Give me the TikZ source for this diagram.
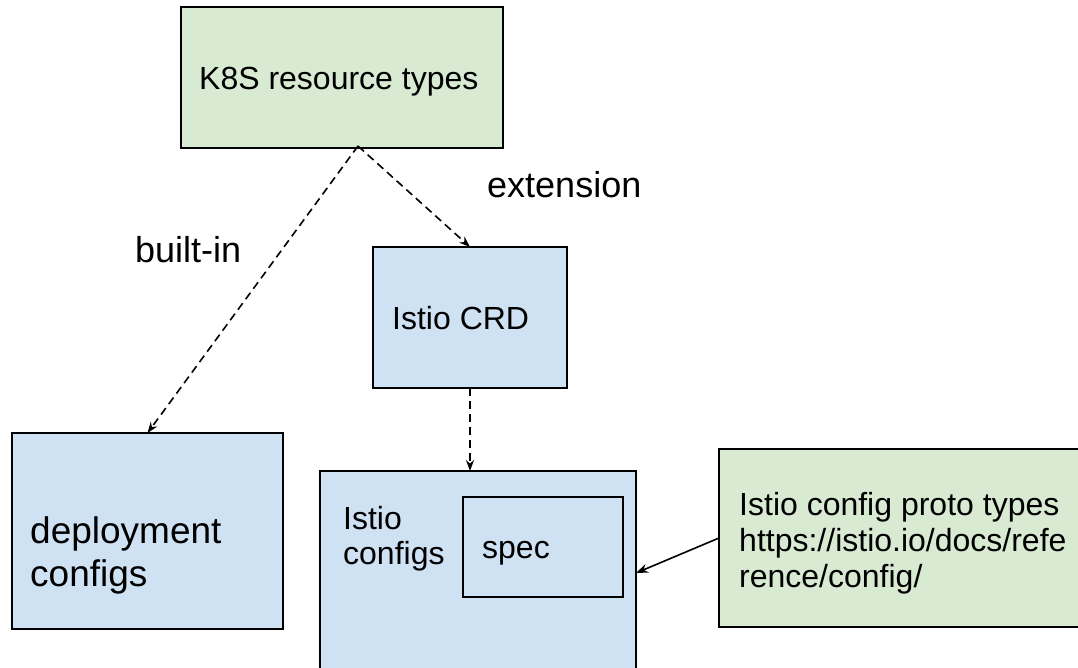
\documentclass[tikz,border=0pt]{standalone}
\usepackage{fontspec}
\setmainfont{Liberation Sans}
\usetikzlibrary{arrows.meta}
\definecolor{boxgreen}{HTML}{D9EAD3}
\definecolor{boxblue}{HTML}{CFE2F3}
\begin{document}
\begin{tikzpicture}[x=1pt,y=-1pt,
  box/.style={draw=black, line width=2pt, inner sep=0pt, outer sep=0pt},
  gbox/.style={box, fill=boxgreen},
  bbox/.style={box, fill=boxblue},
  txt/.style={anchor=base west, inner sep=0pt, font=\fontsize{32}{36}\selectfont},
  bigtxt/.style={anchor=base west, inner sep=0pt, font=\fontsize{36}{42}\selectfont},
  dasharrow/.style={draw=black, line width=1.6pt, dash pattern=on 8pt off 5pt, -{Stealth[length=11pt,width=8pt]}},
  solidarrow/.style={draw=black, line width=1.6pt, -{Stealth[length=12pt,width=9pt]}}]
\useasboundingbox (0,0) rectangle (1078,667);
\fill[white] (0,0) rectangle (1078,667);

% boxes
\node[gbox, minimum width=322pt, minimum height=141pt] (k8s) at (342,77.5) {};
\node[bbox, minimum width=194pt, minimum height=141pt] (crd) at (470,317.5) {};
\node[bbox, minimum width=271pt, minimum height=196pt] (deploy) at (147.5,531) {};
\node[bbox, minimum width=316pt, minimum height=198pt] (configs) at (478,570) {};
\node[box, minimum width=160pt, minimum height=100pt] (spec) at (543,547) {};
\node[gbox, minimum width=366pt, minimum height=178pt] (proto) at (902,538) {};

% texts
\node[txt] (k8stxt) at (199,89) {K8S resource types};
\node[txt] (crdtxt) at (392,329) {Istio CRD};
\node[anchor=base west, inner sep=0pt, font=\fontsize{37}{43}\selectfont] (deptxt1) at (30,543) {deployment};
\node[anchor=base west, inner sep=0pt, font=\fontsize{37}{43}\selectfont] (deptxt2) at (30,586) {configs};
\node[txt] (cfgtxt1) at (343,529) {Istio};
\node[txt] (cfgtxt2) at (343,564) {configs};
\node[txt] (spectxt) at (482,558) {spec};
\node[txt] (prototxt1) at (739,515) {Istio config proto types};
\node[txt] (prototxt2) at (739,551) {https://istio.io/docs/refe};
\node[txt] (prototxt3) at (739,587) {rence/config/};

% labels
\node[bigtxt] (builtin) at (135,262) {built-in};
\node[bigtxt] (extension) at (487,197) {extension};

% connectors
\coordinate (src) at ([xshift=16pt,yshift=2pt]k8s.south);
\draw[dasharrow] (src) -- (deploy.north);
\draw[dasharrow] (src) -- (crd.north);
\draw[dasharrow] (crd.south) -- (crd.south |- configs.north);
\draw[solidarrow] (proto.west) -- ([yshift=-3pt]configs.east);
\end{tikzpicture}
\end{document}
